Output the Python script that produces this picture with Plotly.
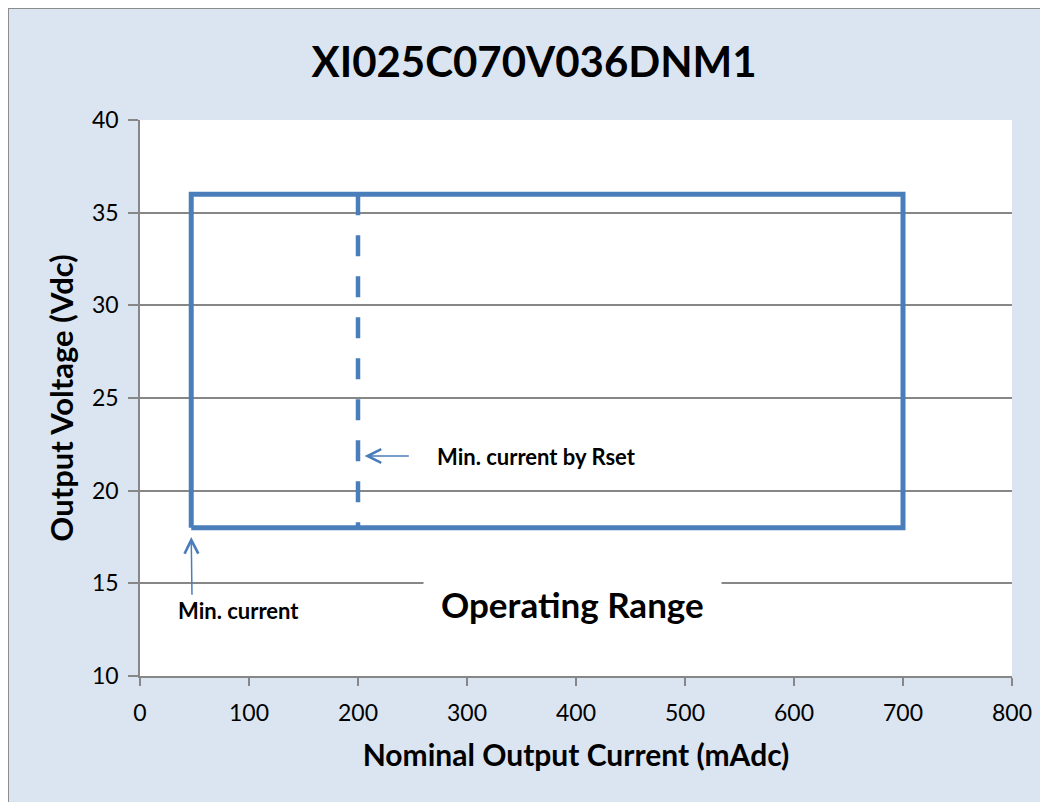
import plotly.graph_objects as go

# ---- data ----
title_text = "XI025C070V036DNM1"
x_title = "Nominal Output Current (mAdc)"
y_title = "Output Voltage (Vdc)"

range_current = [47, 700, 700, 47, 47]      # mAdc
range_voltage = [18, 18, 36, 36, 18]        # Vdc
rset_current = [200, 200]
rset_voltage = [36, 18]

x_ticks = [0, 100, 200, 300, 400, 500, 600, 700, 800]
y_ticks = [10, 15, 20, 25, 30, 35, 40]

label_min_current = "Min. current"
label_min_rset = "Min. current by Rset"
label_range = "Operating Range"

BLUE = "#4a7ebb"
GRID = "#878787"
BG = "#dbe5f1"
FONT = "Lato"

fig = go.Figure()
fig.add_trace(go.Scatter(x=range_current, y=range_voltage, mode="lines",
                         line=dict(color=BLUE, width=5), showlegend=False,
                         hoverinfo="skip"))
fig.add_trace(go.Scatter(x=rset_current, y=rset_voltage, mode="lines",
                         line=dict(color=BLUE, width=4.5, dash="21px,20px"),
                         showlegend=False, hoverinfo="skip"))

fig.update_layout(
    width=1048, height=802,
    margin=dict(l=132, r=44, t=112, b=134),
    paper_bgcolor=BG, plot_bgcolor="white",
    font=dict(family=FONT, color="black"),
    title=dict(text=title_text, x=0.502, xanchor="center", y=0.9327, yanchor="middle",
               font=dict(size=42, family=FONT, weight="bold", color="black")),
    xaxis=dict(range=[0, 800], tickvals=x_ticks, showgrid=False, zeroline=False,
               showline=True, linecolor=GRID, linewidth=1.5,
               ticks="outside", ticklen=8, tickcolor=GRID, tickwidth=1.5,
               ticklabelstandoff=8,
               tickfont=dict(size=23, family=FONT, color="black"),
               title=dict(text=x_title, standoff=20,
                          font=dict(size=30, family=FONT, weight="bold", color="black"))),
    yaxis=dict(range=[10, 40], tickvals=y_ticks, showgrid=True, gridcolor=GRID,
               gridwidth=1.5, zeroline=False,
               showline=True, linecolor=GRID, linewidth=1.5,
               ticks="outside", ticklen=10, tickcolor=GRID, tickwidth=1.5,
               ticklabelstandoff=5,
               tickfont=dict(size=23, family=FONT, color="black"),
               title=dict(text=y_title, standoff=9,
                          font=dict(size=31, family=FONT, weight="bold", color="black"))),
)

# arrows
fig.add_annotation(x=range_current[0], y=17.5, ax=47.7, ay=14.3,
                   xref="x", yref="y", axref="x", ayref="y", text="",
                   showarrow=True, arrowhead=5, arrowsize=1.8, arrowwidth=1.5,
                   arrowcolor=BLUE)
fig.add_annotation(x=206, y=21.87, ax=248, ay=21.87,
                   xref="x", yref="y", axref="x", ayref="y", text="",
                   showarrow=True, arrowhead=5, arrowsize=1.8, arrowwidth=1.5,
                   arrowcolor=BLUE)
fig.add_annotation(x=90, y=13.56, xref="x", yref="y", text=label_min_current,
                   showarrow=False, font=dict(size=22, family=FONT, weight="bold"))
fig.add_annotation(x=364, y=21.87, xref="x", yref="y", text=label_min_rset,
                   showarrow=False, font=dict(size=22, family=FONT, weight="bold"))
fig.add_annotation(x=396.5, y=13.87, xref="x", yref="y", text=label_range,
                   showarrow=False, bgcolor="white", borderpad=17,
                   font=dict(size=35, family=FONT, weight="bold"))

# outer frame at the paper edge
fig.add_shape(type="rect", xref="paper", yref="paper", x0=-0.1514, x1=1.05,
              y0=-0.25, y1=1.2014, fillcolor="rgba(0,0,0,0)",
              line=dict(color="#8c8c8c", width=2))

fig.write_html("out.html")
